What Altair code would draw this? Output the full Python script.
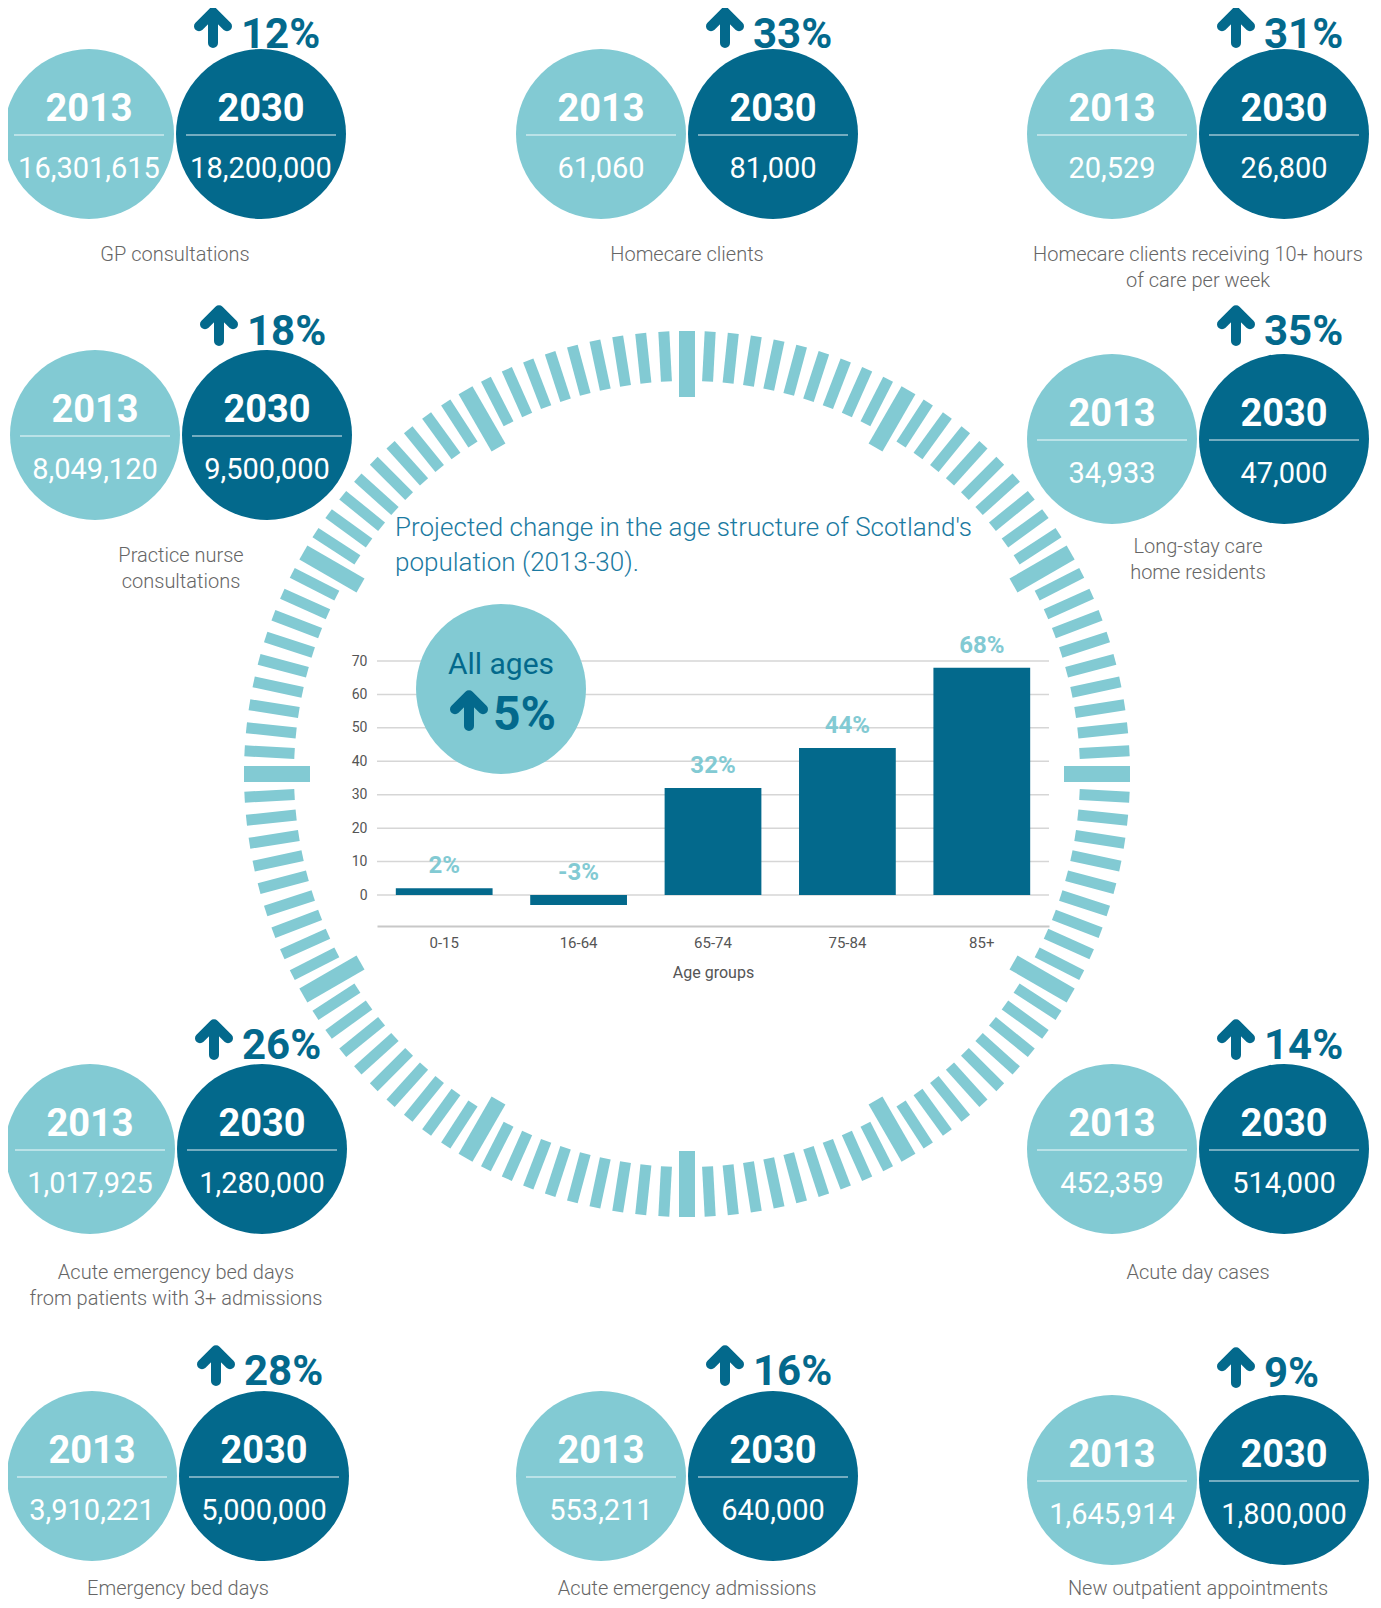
import math
import altair as alt
import pandas as pd

LIGHT = "#82CAD3"
DARK = "#03698C"
GREY = "#666666"
FONT = "Roboto"

# ---------------- data ----------------
measures = [
    "GP consultations",
    "Homecare clients",
    "Homecare clients receiving 10+ hours\nof care per week",
    "Practice nurse\nconsultations",
    "Long-stay care\nhome residents",
    "Acute emergency bed days\nfrom patients with 3+ admissions",
    "Acute day cases",
    "Emergency bed days",
    "Acute emergency admissions",
    "New outpatient appointments",
]
values_2013 = ["16,301,615", "61,060", "20,529", "8,049,120", "34,933",
               "1,017,925", "452,359", "3,910,221", "553,211", "1,645,914"]
values_2030 = ["18,200,000", "81,000", "26,800", "9,500,000", "47,000",
               "1,280,000", "514,000", "5,000,000", "640,000", "1,800,000"]
pct_increase = [12, 33, 31, 18, 35, 26, 14, 28, 16, 9]

age_groups = ["0-15", "16-64", "65-74", "75-84", "85+"]
age_change = [2, -3, 32, 44, 68]
all_ages_change = 5
y_ticks = [0, 10, 20, 30, 40, 50, 60, 70]
title_lines = ["Projected change in the age structure of Scotland's",
               "population (2013-30)."]

# ---------------- layout (page pixels) ----------------
left_cx = [89, 601, 1112, 95, 1112, 90, 1112, 92, 601, 1112]
circle_cy = [134, 134, 134, 435, 439, 1149, 1149, 1476, 1476, 1480]
caption_top = [245, 245, 245, 546, 537, 1263, 1263, 1579, 1579, 1579]
pct_base = [48, 48, 48, 345, 345, 1059, 1059, 1385, 1385, 1387]
arrow_cy = [28, 28, 28, 326, 326, 1040, 1040, 1366, 1366, 1368]
GAP = 172
RING_C = (687, 774)
RING_R = 443
BUBBLE = 170 ** 2  # symbol size = (diameter)^2

W, H = 1365, 1592
LX = alt.Scale(domain=[8, 8 + W], range=[0, W])
LY = alt.Scale(domain=[8, 8 + H], range=[0, H])


def X(f):
    return alt.X(f"{f}:Q", scale=LX, axis=None)


def Y(f):
    return alt.Y(f"{f}:Q", scale=LY, axis=None)


# ---------------- ring ----------------
ring_rows = []
for k in range(120):
    th = math.radians(3 * k)
    big = k % 10 == 0
    r_in = RING_R - (66 if big else 50)
    ring_rows.append({
        "x": RING_C[0] + RING_R * math.sin(th), "y": RING_C[1] - RING_R * math.cos(th),
        "x2": RING_C[0] + r_in * math.sin(th), "y2": RING_C[1] - r_in * math.cos(th),
        "big": big,
    })
ring_df = pd.DataFrame(ring_rows)
ring_small = alt.Chart(ring_df[~ring_df.big]).mark_rule(color=LIGHT, strokeWidth=11).encode(
    x=X("x"), y=Y("y"), x2=alt.X2("x2"), y2=alt.Y2("y2"))
ring_big = alt.Chart(ring_df[ring_df.big]).mark_rule(color=LIGHT, strokeWidth=16).encode(
    x=X("x"), y=Y("y"), x2=alt.X2("x2"), y2=alt.Y2("y2"))

# ---------------- bubbles ----------------
rows = []
for i in range(len(measures)):
    for yr, cx, val, col in (("2013", left_cx[i], values_2013[i], LIGHT),
                             ("2030", left_cx[i] + GAP, values_2030[i], DARK)):
        cy = circle_cy[i]
        rows.append({"cx": cx, "cy": cy, "year": yr, "val": val, "fill": col,
                     "ty": cy - 13, "vy": cy + 44, "ly": cy + 1,
                     "lx1": cx - 75, "lx2": cx + 75})
bub = pd.DataFrame(rows)

circles = alt.Chart(bub).mark_circle(size=BUBBLE, opacity=1).encode(
    x=X("cx"), y=Y("cy"), color=alt.Color("fill:N", scale=None))
year_txt = alt.Chart(bub).mark_text(font=FONT, fontSize=38, fontWeight="bold", color="white",
                                    baseline="alphabetic").encode(
    x=X("cx"), y=Y("ty"), text="year:N")
sep = alt.Chart(bub).mark_rule(color="white", strokeWidth=1.2, opacity=0.9).encode(
    x=X("lx1"), x2=alt.X2("lx2"), y=Y("ly"))
val_txt = alt.Chart(bub).mark_text(font=FONT, fontSize=29, fontWeight="normal", color="white",
                                   baseline="alphabetic").encode(
    x=X("cx"), y=Y("vy"), text="val:N")

grp = pd.DataFrame({
    "measure": measures,
    "capx": [c + GAP / 2 for c in left_cx],
    "capy": caption_top,
    "ax": [c + GAP - 48 for c in left_cx],
    "ay": arrow_cy,
    "px": [c + GAP - 20 for c in left_cx],
    "py": pct_base,
    "pct": [f"{p}%" for p in pct_increase],
})
ARROW = "M0,0.85L0,-0.8M-0.8,-0.1L0,-0.9L0.8,-0.1"
arrows = alt.Chart(grp).mark_point(shape=ARROW, filled=False, color=DARK, strokeWidth=10,
                                   strokeCap="round", strokeJoin="round", size=1225,
                                   opacity=1).encode(x=X("ax"), y=Y("ay"))
pct_txt = alt.Chart(grp).mark_text(font=FONT, fontSize=42, fontWeight="bold", color=DARK,
                                   align="left", baseline="alphabetic").encode(
    x=X("px"), y=Y("py"), text="pct:N")
captions = alt.Chart(grp).mark_text(font=FONT, fontSize=20, fontWeight=300, color=GREY,
                                    align="center", baseline="top", lineBreak="\n",
                                    lineHeight=26).encode(
    x=X("capx"), y=Y("capy"), text="measure:N")

# ---------------- central chart ----------------
BX = alt.Scale(domain=age_groups, range=[369, 1041], paddingInner=0.28, paddingOuter=0.14)
BY = alt.Scale(domain=[0, 70], range=[887, 653], nice=False)

grid = alt.Chart(pd.DataFrame({"tick": y_ticks})).mark_rule(color="#d6d6d6", strokeWidth=1.5).encode(
    y=alt.Y("tick:Q", scale=BY,
            axis=alt.Axis(orient="left", offset=-369, values=y_ticks, ticks=False, tickSize=0,
                          domain=False, grid=False, labelPadding=10, labelFontSize=14,
                          labelColor="#555555", labelFont=FONT, title=None)),
    x=alt.value(369), x2=alt.value(1041))

age_df = pd.DataFrame({"age": age_groups, "change": age_change})
bars = alt.Chart(age_df).mark_bar(color=DARK).encode(
    x=alt.X("age:N", scale=BX, sort=age_groups,
            axis=alt.Axis(orient="bottom", offset=-674, domainColor="#c8c8c8", domainWidth=2,
                          ticks=False, tickSize=0, labelPadding=9, labelFontSize=15,
                          labelColor="#555555", labelFont=FONT, labelAngle=0,
                          title="Age groups", titleFontSize=16, titleFontWeight="normal",
                          titleColor="#555555", titleFont=FONT, titlePadding=14)),
    y=alt.Y("change:Q", scale=BY, axis=None))
bar_lbl = alt.Chart(age_df).transform_calculate(
    ly="max(datum.change, 0)", lbl="datum.change + '%'"
).mark_text(font=FONT, fontSize=24, fontWeight="bold", color=LIGHT, dy=-22,
            baseline="middle").encode(
    x=alt.X("age:N", scale=BX, sort=age_groups, axis=None),
    y=alt.Y("ly:Q", scale=BY, axis=None), text="lbl:N")

all_df = pd.DataFrame({"x": [501], "y": [689], "tx": [501], "ty": [674],
                       "ax": [469], "ay": [711], "px": [493], "py": [730],
                       "t": ["All ages"], "p": [f"{all_ages_change}%"]})
all_circle = alt.Chart(all_df).mark_circle(size=BUBBLE, color=LIGHT, opacity=1).encode(
    x=X("x"), y=Y("y"))
all_txt = alt.Chart(all_df).mark_text(font=FONT, fontSize=30, color=DARK,
                                      baseline="alphabetic").encode(x=X("tx"), y=Y("ty"), text="t:N")
all_arrow = alt.Chart(all_df).mark_point(shape=ARROW, filled=False, color=DARK, strokeWidth=10,
                                         strokeCap="round", strokeJoin="round", size=1225,
                                         opacity=1).encode(x=X("ax"), y=Y("ay"))
all_pct = alt.Chart(all_df).mark_text(font=FONT, fontSize=48, fontWeight="bold", color=DARK,
                                      align="left", baseline="alphabetic").encode(
    x=X("px"), y=Y("py"), text="p:N")

title_df = pd.DataFrame({"x": [395, 395], "y": [528, 563], "t": title_lines})
title = alt.Chart(title_df).mark_text(font=FONT, fontSize=26, fontWeight=300, color="#1B7AA1",
                                      align="left", baseline="middle").encode(
    x=X("x"), y=Y("y"), text="t:N")

chart = alt.layer(
    ring_small, ring_big,
    circles, sep, year_txt, val_txt, arrows, pct_txt, captions,
    grid, all_circle, all_txt, all_arrow, all_pct,
    bars, bar_lbl, title,
).resolve_scale(x="independent", y="independent").properties(
    width=W, height=H, autosize=alt.AutoSizeParams(type="none"), padding=0,
    background="white",
).configure_view(stroke=None)

chart.save("out.html", embed_options={"renderer": "svg", "actions": False})
